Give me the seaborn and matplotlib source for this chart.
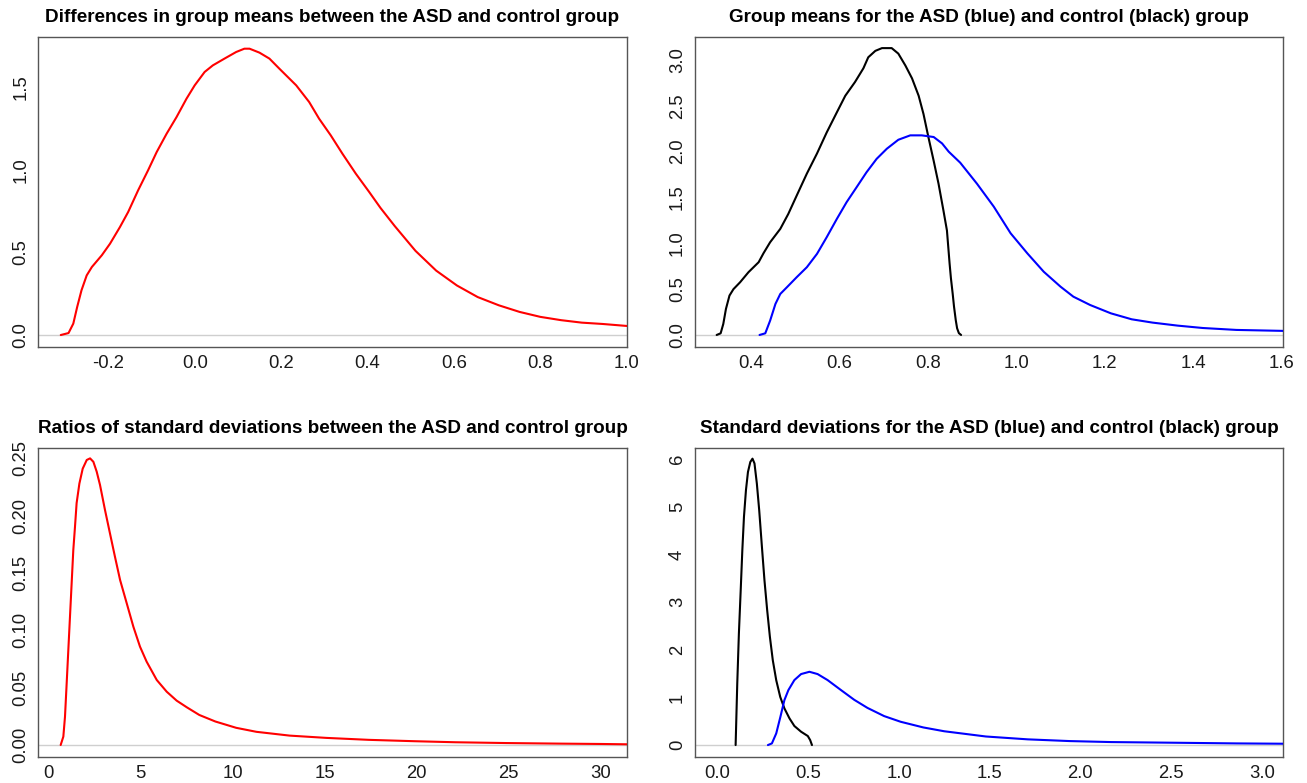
import matplotlib
matplotlib.use("Agg")
import matplotlib.pyplot as plt
import seaborn as sns
import pandas as pd

# Posterior density of the difference in group means (ASD - control)
diff_x = [-0.310, -0.292, -0.281, -0.272, -0.262, -0.250, -0.238, -0.215, -0.196, -0.173,
          -0.154, -0.131, -0.108, -0.088, -0.065, -0.042, -0.019, 0.000, 0.023, 0.042,
          0.069, 0.096, 0.115, 0.127, 0.150, 0.173, 0.196, 0.235, 0.265, 0.288, 0.315,
          0.342, 0.373, 0.404, 0.430, 0.463, 0.511, 0.559, 0.607, 0.655, 0.704, 0.752,
          0.800, 0.848, 0.896, 0.944, 1.000, 1.015]
diff_y = [0.000, 0.012, 0.069, 0.170, 0.271, 0.361, 0.412, 0.483, 0.553, 0.654,
          0.745, 0.876, 0.997, 1.108, 1.219, 1.320, 1.431, 1.512, 1.593, 1.633,
          1.674, 1.714, 1.734, 1.734, 1.710, 1.674, 1.613, 1.512, 1.411, 1.310, 1.209,
          1.098, 0.977, 0.866, 0.770, 0.660, 0.510, 0.390, 0.300, 0.230, 0.180, 0.140,
          0.110, 0.090, 0.075, 0.067, 0.055, 0.052]

# Posterior densities of the group means
mean_ctrl_x = [0.322, 0.331, 0.337, 0.343, 0.351, 0.360, 0.375, 0.394, 0.417, 0.428, 0.443,
               0.466, 0.484, 0.503, 0.526, 0.549, 0.571, 0.594, 0.613, 0.635, 0.654, 0.665,
               0.681, 0.696, 0.718, 0.733, 0.749, 0.764, 0.779, 0.790, 0.801, 0.813, 0.824,
               0.835, 0.843, 0.849, 0.852, 0.856, 0.859, 0.863, 0.866, 0.870, 0.875]
mean_ctrl_y = [0.000, 0.018, 0.120, 0.284, 0.430, 0.500, 0.575, 0.685, 0.794, 0.892, 1.012,
               1.158, 1.320, 1.520, 1.760, 1.980, 2.210, 2.430, 2.610, 2.760, 2.910, 3.030,
               3.100, 3.130, 3.130, 3.070, 2.940, 2.800, 2.610, 2.410, 2.160, 1.900, 1.650,
               1.360, 1.140, 0.780, 0.620, 0.450, 0.310, 0.160, 0.073, 0.020, 0.000]
mean_asd_x = [0.419, 0.432, 0.443, 0.455, 0.466, 0.481, 0.503, 0.526, 0.549, 0.571, 0.594,
              0.616, 0.639, 0.661, 0.684, 0.707, 0.733, 0.760, 0.786, 0.813, 0.832, 0.847,
              0.873, 0.911, 0.949, 0.987, 1.025, 1.062, 1.100, 1.129, 1.167, 1.214, 1.261,
              1.308, 1.365, 1.422, 1.498, 1.600, 1.615]
mean_asd_y = [0.000, 0.018, 0.157, 0.339, 0.448, 0.521, 0.630, 0.739, 0.885, 1.067, 1.267,
              1.449, 1.615, 1.775, 1.922, 2.032, 2.130, 2.178, 2.178, 2.160, 2.090, 2.000,
              1.880, 1.650, 1.400, 1.110, 0.890, 0.690, 0.527, 0.418, 0.327, 0.236, 0.171,
              0.135, 0.102, 0.076, 0.055, 0.045, 0.043]

# Posterior density of the ratio of standard deviations (ASD / control)
ratio_x = [0.674, 0.819, 0.909, 1.00, 1.09, 1.18, 1.27, 1.36, 1.45, 1.54, 1.69, 1.87, 2.09,
           2.27, 2.45, 2.63, 2.81, 3.08, 3.35, 3.62, 3.90, 4.26, 4.62, 4.98, 5.34, 5.89,
           6.43, 6.97, 7.52, 8.20, 9.07, 10.2, 11.3, 13.1, 15.1, 17.4, 19.9, 22.1, 24.9,
           27.8, 30.0, 31.5]
ratio_y = [0.0, 0.0073, 0.0247, 0.0538, 0.0829, 0.112, 0.141, 0.170, 0.190, 0.211, 0.228,
           0.241, 0.2486, 0.250, 0.247, 0.2384, 0.2268, 0.205, 0.1846, 0.1643, 0.1439,
           0.1236, 0.1032, 0.0858, 0.0727, 0.0567, 0.0465, 0.0387, 0.0329, 0.0262, 0.0205,
           0.0150, 0.0115, 0.0082, 0.0062, 0.0045, 0.0033, 0.0024, 0.0017, 0.0012, 0.0009,
           0.0006]

# Posterior densities of the group standard deviations
sd_ctrl_x = [0.099, 0.108, 0.117, 0.127, 0.136, 0.145, 0.156, 0.167, 0.180, 0.192, 0.203,
             0.216, 0.229, 0.244, 0.258, 0.273, 0.288, 0.304, 0.323, 0.345, 0.368, 0.396,
             0.423, 0.460, 0.497, 0.510, 0.520]
sd_ctrl_y = [0.00, 1.29, 2.34, 3.25, 4.09, 4.79, 5.35, 5.73, 5.94, 6.01, 5.91,
             5.49, 4.93, 4.16, 3.46, 2.83, 2.27, 1.78, 1.36, 1.01, 0.77, 0.56,
             0.40, 0.28, 0.19, 0.105, 0.00]
sd_asd_x = [0.277, 0.299, 0.323, 0.346, 0.368, 0.390, 0.423, 0.460, 0.506, 0.551, 0.606,
            0.680, 0.753, 0.826, 0.918, 1.009, 1.134, 1.249, 1.479, 1.710, 1.940, 2.170,
            2.520, 2.860, 3.130]
sd_asd_y = [0.000, 0.035, 0.245, 0.594, 0.944, 1.154, 1.364, 1.490, 1.538, 1.490, 1.364,
            1.154, 0.950, 0.780, 0.608, 0.489, 0.370, 0.290, 0.180, 0.120, 0.084, 0.063,
            0.049, 0.035, 0.028]

titles = [
    "Differences in group means between the ASD and control group",
    "Group means for the ASD (blue) and control (black) group",
    "Ratios of standard deviations between the ASD and control group",
    "Standard deviations for the ASD (blue) and control (black) group",
]

xticks = [
    [-0.2, 0.0, 0.2, 0.4, 0.6, 0.8, 1.0],
    [0.4, 0.6, 0.8, 1.0, 1.2, 1.4, 1.6],
    [0, 5, 10, 15, 20, 25, 30],
    [0.0, 0.5, 1.0, 1.5, 2.0, 2.5, 3.0],
]
xtick_labels = [
    ["-0.2", "0.0", "0.2", "0.4", "0.6", "0.8", "1.0"],
    ["0.4", "0.6", "0.8", "1.0", "1.2", "1.4", "1.6"],
    ["0", "5", "10", "15", "20", "25", "30"],
    ["0.0", "0.5", "1.0", "1.5", "2.0", "2.5", "3.0"],
]
yticks = [
    [0.0, 0.5, 1.0, 1.5],
    [0.0, 0.5, 1.0, 1.5, 2.0, 2.5, 3.0],
    [0.00, 0.05, 0.10, 0.15, 0.20, 0.25],
    [0, 1, 2, 3, 4, 5, 6],
]
ytick_labels = [
    ["0.0", "0.5", "1.0", "1.5"],
    ["0.0", "0.5", "1.0", "1.5", "2.0", "2.5", "3.0"],
    ["0.00", "0.05", "0.10", "0.15", "0.20", "0.25"],
    ["0", "1", "2", "3", "4", "5", "6"],
]
xlims = [(-0.362, 1.0), (0.273, 1.604), (-0.54, 31.4), (-0.125, 3.119)]
ylims = [(-0.0707, 1.803), (-0.128, 3.248), (-0.0102, 0.2593), (-0.244, 6.24)]

sns.set_theme(style="white")
plt.rcParams["font.family"] = ["Liberation Sans", "DejaVu Sans"]
plt.rcParams["axes.unicode_minus"] = False

W, H = 1307, 783
fig = plt.figure(figsize=(W / 100, H / 100), dpi=100)

# axes boxes in pixels: (left, top, right, bottom)
boxes = [
    (38.3, 37.3, 626.7, 346.7),
    (695.0, 37.3, 1283.3, 346.7),
    (38.3, 447.7, 626.7, 756.7),
    (695.0, 447.7, 1283.3, 756.7),
]

series = [
    [(diff_x, diff_y, "#ff0000")],
    [(mean_ctrl_x, mean_ctrl_y, "#000000"), (mean_asd_x, mean_asd_y, "#0000ff")],
    [(ratio_x, ratio_y, "#ff0000")],
    [(sd_ctrl_x, sd_ctrl_y, "#000000"), (sd_asd_x, sd_asd_y, "#0000ff")],
]

frame_color = "#555555"
text_color = "#1a1a1a"

for i, (l, t, r, b) in enumerate(boxes):
    ax = fig.add_axes([l / W, 1 - b / H, (r - l) / W, (b - t) / H])
    ax.axhline(0, color="#cfcfcf", lw=1.0, zorder=1)
    for xs, ys, col in series[i]:
        df = pd.DataFrame({"x": xs, "density": ys})
        sns.lineplot(data=df, x="x", y="density", ax=ax, color=col,
                     linewidth=1.5, estimator=None, sort=False, zorder=3)
    ax.set_xlim(*xlims[i])
    ax.set_ylim(*ylims[i])
    ax.set_xticks(xticks[i])
    ax.set_xticklabels(xtick_labels[i])
    ax.set_yticks(yticks[i])
    ax.set_yticklabels(ytick_labels[i], rotation=90, va="center")
    ax.set_xlabel("")
    ax.set_ylabel("")
    for s in ax.spines.values():
        s.set_color(frame_color)
        s.set_linewidth(1.0)
    ax.tick_params(axis="both", which="major", direction="out", length=3.5,
                   width=1.0, color=frame_color, labelsize=13.3, labelcolor=text_color)
    ax.tick_params(axis="x", pad=2.5)
    ax.tick_params(axis="y", pad=3)
    ax.grid(False)
    ax.annotate(titles[i], xy=(0.5, 1), xycoords="axes fraction",
                xytext=(0, 14.0), textcoords="offset points",
                ha="center", va="center", fontsize=13.6, fontweight="bold",
                color="#000000")

fig.savefig("out.png", dpi=100)
